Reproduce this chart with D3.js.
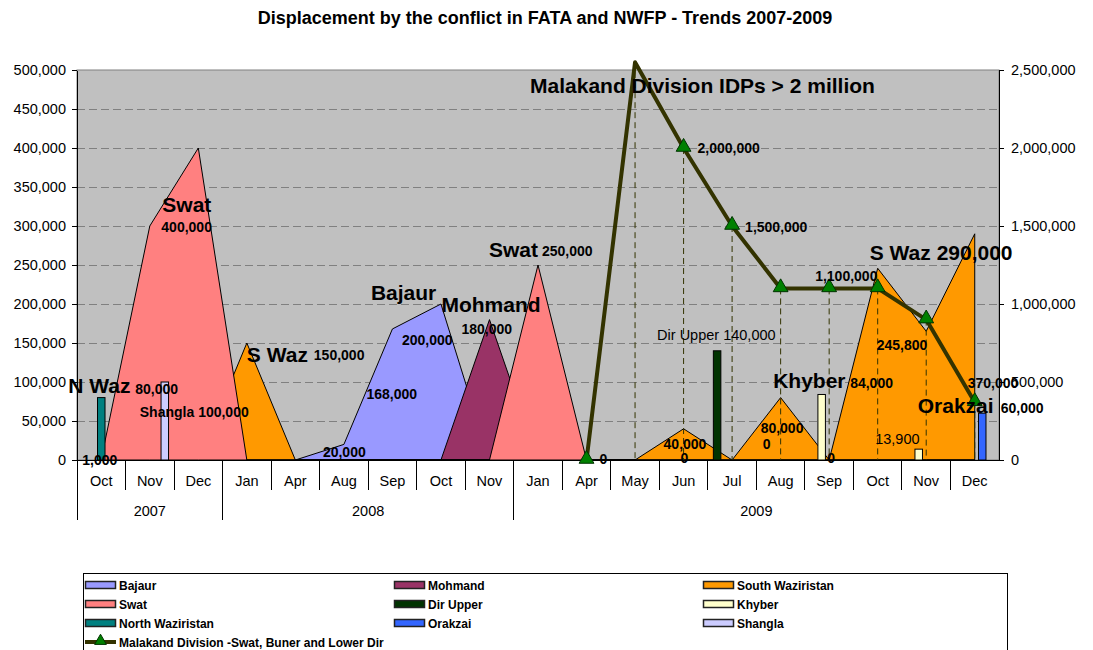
<!DOCTYPE html>
<html>
<head>
<meta charset="utf-8">
<script src="https://cdn.jsdelivr.net/npm/d3@7"></script>
<style>
  body { margin: 0; background: #fff; }
  svg { font-family: "Liberation Sans", Arial, sans-serif; }
  .axis text { font-size: 14.5px; fill: #000; }
  .axis path, .axis line { stroke: #000; shape-rendering: crispEdges; }
  .grid line { stroke: #808080; stroke-dasharray: 8,4; shape-rendering: crispEdges; }
  .lbl { fill: #000; }
  .legend text { font-size: 12px; font-weight: bold; }
</style>
</head>
<body>
<script>

var months = ["Oct", "Nov", "Dec", "Jan", "Apr", "Aug", "Sep", "Oct", "Nov",
              "Jan", "Apr", "May", "Jun", "Jul", "Aug", "Sep", "Oct", "Nov", "Dec"];
var years = ["2007", "2008", "2009"];
var monthsPerYear = [3, 6, 10];

// area series
var bajaur   = [0, 0, 0, 0, 0, 20000, 168000, 200000, 0, 0, 0, 0, 0, 0, 0, 0, 0, 0, 0];
var mohmand  = [0, 0, 0, 0, 0, 0, 0, 0, 180000, 0, 0, 0, 0, 0, 0, 0, 0, 0, 0];
var southWaz = [0, 0, 0, 150000, 0, 0, 0, 0, 0, 0, 0, 0, 40000, 0, 80000, 0, 245800, 165000, 290000];
var swat     = [1000, 300000, 400000, 0, 0, 0, 0, 0, 0, 250000, 0, 0, 0, 0, 0, 0, 0, 0, 0];

// column series
var dirUpper = [null, null, null, null, null, null, null, null, null, null, null, null, null, 140000, null, null, null, null, null];
var khyber   = [null, null, null, null, null, null, null, null, null, null, null, null, null, null, null, 84000, null, 13900, null];
var northWaz = [80000, null, null, null, null, null, null, null, null, null, null, null, null, null, null, null, null, null, null];
var orakzai  = [null, null, null, null, null, null, null, null, null, null, null, null, null, null, null, null, null, null, 60000];
var shangla  = [null, 100000, null, null, null, null, null, null, null, null, null, null, null, null, null, null, null, null, null];

// line series, right axis
var malakand = [null, null, null, null, null, null, null, null, null, null,
                0, 2550000, 2000000, 1500000, 1100000, 1100000, 1100000, 900000, 370000];

var leftTicks = d3.range(0, 500001, 50000);
var rightTicks = d3.range(0, 2500001, 500000);

var areaSeries = [
  {name: "Bajaur", values: bajaur, color: "#9999FF"},
  {name: "Mohmand", values: mohmand, color: "#993366"},
  {name: "South Waziristan", values: southWaz, color: "#FF9900"},
  {name: "Swat", values: swat, color: "#FF8080"}
];
var barSeries = [
  {name: "Dir Upper", values: dirUpper, color: "#003300"},
  {name: "Khyber", values: khyber, color: "#FFFFCC"},
  {name: "North Waziristan", values: northWaz, color: "#008080"},
  {name: "Orakzai", values: orakzai, color: "#3366FF"},
  {name: "Shangla", values: shangla, color: "#CCCCFF"}
];

// text annotations: category index, value they hang off, offset
var labels = [
  {t: "Swat", i: 2, v: 400000, dx: -36, dy: 64, big: true},
  {t: "400,000", i: 2, v: 400000, dx: -37, dy: 84},
  {t: "N Waz", i: 0, v: 80000, dx: -33, dy: -5, big: true},
  {t: "80,000", i: 0, v: 80000, dx: 34, dy: -4},
  {t: "Shangla 100,000", i: 1, v: 100000, dx: -10, dy: 35},
  {t: "1,000", i: 0, v: 1000, dx: -19, dy: 6},
  {t: "S Waz", i: 3, v: 150000, dx: 0, dy: 19, big: true},
  {t: "150,000", i: 3, v: 150000, dx: 67, dy: 17},
  {t: "20,000", i: 5, v: 20000, dx: -21, dy: 13},
  {t: "168,000", i: 6, v: 168000, dx: -26, dy: 70},
  {t: "Bajaur", i: 7, v: 200000, dx: -70, dy: -4, big: true},
  {t: "200,000", i: 7, v: 200000, dx: -39, dy: 41},
  {t: "Mohmand", i: 8, v: 180000, dx: -48, dy: -8, big: true},
  {t: "180,000", i: 8, v: 180000, dx: -28, dy: 14},
  {t: "Swat", i: 9, v: 250000, dx: -49, dy: -8, big: true},
  {t: "250,000", i: 9, v: 250000, dx: 4, dy: -9},
  {t: "0", i: 10, v: 0, dx: 13, dy: 4},
  {t: "Malakand Division IDPs > 2 million", i: 11, v: 2550000, right: true, dx: -105, dy: 31, big: true},
  {t: "2,000,000", i: 12, v: 2000000, right: true, dx: 14, dy: 5},
  {t: "1,500,000", i: 13, v: 1500000, right: true, dx: 13, dy: 6},
  {t: "1,100,000", i: 15, v: 1100000, right: true, dx: -14, dy: -7},
  {t: "Dir Upper 140,000", i: 13, v: 140000, dx: -75, dy: -11, plain: true},
  {t: "40,000", i: 12, v: 40000, dx: -20, dy: 20},
  {t: "0", i: 12, v: 0, dx: -3, dy: 3},
  {t: "Khyber", i: 15, v: 84000, dx: -56, dy: -6, big: true},
  {t: "84,000", i: 15, v: 84000, dx: 21, dy: -6},
  {t: "80,000", i: 14, v: 80000, dx: -20, dy: 35},
  {t: "0", i: 14, v: 0, dx: -18, dy: -11},
  {t: "0", i: 15, v: 0, dx: -2, dy: 3},
  {t: "S Waz 290,000", i: 18, v: 290000, dx: -105, dy: 26, big: true},
  {t: "245,800", i: 16, v: 245800, dx: -1, dy: 82},
  {t: "13,900", i: 17, v: 13900, dx: -51, dy: -5, plain: true},
  {t: "370,000", i: 18, v: 370000, right: true, dx: -7, dy: -14},
  {t: "Orakzai", i: 18, v: 60000, dx: -57, dy: 0, big: true},
  {t: "60,000", i: 18, v: 60000, dx: 26, dy: 0}
];

var plot = {left: 77, right: 999, top: 70, bottom: 460};

var svg = d3.select("body").append("svg")
  .attr("width", 1093)
  .attr("height", 650);

var x = d3.scaleBand()
  .domain(d3.range(months.length))
  .range([plot.left, plot.right])
  .padding(0);

var cx = function (i) { return x(i) + x.bandwidth() / 2; };

var y = d3.scaleLinear().domain([0, 500000]).range([plot.bottom, plot.top]);
var y2 = d3.scaleLinear().domain([0, 2500000]).range([plot.bottom, plot.top]);

var inner = d3.scaleBand()
  .domain(barSeries.map(function (s) { return s.name; }))
  .range([-18.75, 18.75]);

svg.append("text")
  .attr("x", 545)
  .attr("y", 24)
  .attr("text-anchor", "middle")
  .style("font-size", "18px")
  .style("font-weight", "bold")
  .text("Displacement by the conflict in FATA and NWFP - Trends 2007-2009");

// plot background + grid
svg.append("rect")
  .attr("x", plot.left)
  .attr("y", plot.top)
  .attr("width", plot.right - plot.left)
  .attr("height", plot.bottom - plot.top)
  .attr("fill", "#C0C0C0")
  .attr("stroke", "#808080");

svg.append("g")
  .attr("class", "grid")
  .selectAll("line")
  .data(leftTicks.filter(function (d) { return d > 0 && d < 500000; }))
  .enter().append("line")
  .attr("x1", plot.left)
  .attr("x2", plot.right)
  .attr("y1", function (d) { return y(d); })
  .attr("y2", function (d) { return y(d); });

// areas
var area = d3.area()
  .x(function (d, i) { return cx(i); })
  .y0(y(0))
  .y1(function (d) { return y(d); });

svg.append("g")
  .selectAll("path")
  .data(areaSeries)
  .enter().append("path")
  .attr("d", function (s) { return area(s.values); })
  .attr("fill", function (s) { return s.color; })
  .attr("stroke", "#000")
  .attr("stroke-width", 1)
  .attr("stroke-linejoin", "miter");

// drop lines from the line series
var malPts = malakand.map(function (v, i) { return {i: i, v: v}; })
  .filter(function (d) { return d.v !== null; });

svg.append("g")
  .selectAll("line")
  .data(malPts.filter(function (d) { return d.v > 0; }))
  .enter().append("line")
  .attr("x1", function (d) { return cx(d.i); })
  .attr("x2", function (d) { return cx(d.i); })
  .attr("y1", function (d) { return y2(d.v); })
  .attr("y2", y2(0))
  .attr("stroke", "#333300")
  .attr("stroke-dasharray", "6,4");

// columns
barSeries.forEach(function (s) {
  svg.append("g")
    .selectAll("rect")
    .data(s.values.map(function (v, i) { return {i: i, v: v}; })
      .filter(function (d) { return d.v !== null; }))
    .enter().append("rect")
    .attr("x", function (d) { return cx(d.i) + inner(s.name); })
    .attr("y", function (d) { return y(d.v); })
    .attr("width", inner.bandwidth())
    .attr("height", function (d) { return y(0) - y(d.v); })
    .attr("fill", s.color)
    .attr("stroke", "#000");
});

// axes
svg.append("g")
  .attr("class", "axis")
  .attr("transform", "translate(" + plot.left + ",0)")
  .call(d3.axisLeft(y).tickValues(leftTicks).tickFormat(d3.format(",")).tickSize(5).tickSizeOuter(0).tickPadding(6));

svg.append("g")
  .attr("class", "axis")
  .attr("transform", "translate(" + plot.right + ",0)")
  .call(d3.axisRight(y2).tickValues(rightTicks).tickFormat(d3.format(",")).tickSize(5).tickSizeOuter(0).tickPadding(7));

// two-level category axis
var xa = svg.append("g").attr("class", "axis");

xa.append("line")
  .attr("x1", plot.left).attr("x2", plot.right)
  .attr("y1", plot.bottom).attr("y2", plot.bottom);

xa.selectAll(".sep")
  .data(d3.range(1, months.length))
  .enter().append("line")
  .attr("x1", function (i) { return x(i); })
  .attr("x2", function (i) { return x(i); })
  .attr("y1", plot.bottom)
  .attr("y2", 490);

xa.selectAll(".mon")
  .data(months)
  .enter().append("text")
  .attr("x", function (d, i) { return cx(i); })
  .attr("y", 486)
  .attr("text-anchor", "middle")
  .text(function (d) { return d; });

var starts = [0];
monthsPerYear.forEach(function (n, k) { starts.push(starts[k] + n); });

xa.selectAll(".ysep")
  .data(starts.slice(0, years.length))
  .enter().append("line")
  .attr("x1", function (i) { return x(i); })
  .attr("x2", function (i) { return x(i); })
  .attr("y1", plot.bottom)
  .attr("y2", 520);

xa.selectAll(".yr")
  .data(years)
  .enter().append("text")
  .attr("x", function (d, k) {
    var a = x(starts[k]);
    var b = starts[k + 1] < months.length ? x(starts[k + 1]) : plot.right;
    return (a + b) / 2;
  })
  .attr("y", 516)
  .attr("text-anchor", "middle")
  .text(function (d) { return d; });

// Malakand line
var line = d3.line()
  .defined(function (d) { return d !== null; })
  .x(function (d, i) { return cx(i); })
  .y(function (d) { return y2(d); });

svg.append("path")
  .datum(malakand)
  .attr("d", line)
  .attr("fill", "none")
  .attr("stroke", "#333300")
  .attr("stroke-width", 4)
  .attr("stroke-linejoin", "round");

var tri = d3.symbol().type(d3.symbolTriangle).size(95);

svg.append("g")
  .selectAll("path")
  .data(malPts.filter(function (d) { return d.v <= 2500000; }))
  .enter().append("path")
  .attr("d", tri)
  .attr("transform", function (d) { return "translate(" + cx(d.i) + "," + (y2(d.v) - 1) + ")"; })
  .attr("fill", "#008000")
  .attr("stroke", "#003300")
  .attr("stroke-width", 1);

// labels
svg.append("g")
  .selectAll("text")
  .data(labels)
  .enter().append("text")
  .attr("class", "lbl")
  .attr("x", function (d) { return cx(d.i) + d.dx; })
  .attr("y", function (d) { return (d.right ? y2(d.v) : y(d.v)) + d.dy; })
  .style("font-size", function (d) { return d.big ? "21px" : (d.plain ? "14.5px" : "14px"); })
  .style("font-weight", function (d) { return d.plain ? "normal" : "bold"; })
  .text(function (d) { return d.t; });

// legend
var legendItems = [
  areaSeries[0], areaSeries[1], areaSeries[2],
  areaSeries[3], barSeries[0], barSeries[1],
  barSeries[2], barSeries[3], barSeries[4]
];

var legend = svg.append("g").attr("class", "legend");

legend.append("rect")
  .attr("x", 83.5).attr("y", 573.5)
  .attr("width", 924).attr("height", 90)
  .attr("fill", "#fff")
  .attr("stroke", "#000");

var item = legend.selectAll(".item")
  .data(legendItems)
  .enter().append("g")
  .attr("transform", function (d, k) {
    return "translate(" + (85 + (k % 3) * 309) + "," + (585 + Math.floor(k / 3) * 19) + ")";
  });

item.append("rect")
  .attr("x", 0.5).attr("y", -3.5)
  .attr("width", 30).attr("height", 7)
  .attr("fill", function (d) { return d.color; })
  .attr("stroke", "#222")
  .attr("stroke-width", 1.5);

item.append("text")
  .attr("x", 34)
  .attr("y", 4.5)
  .text(function (d) { return d.name; });

var lineItem = legend.append("g")
  .attr("transform", "translate(85," + (585 + 3 * 19) + ")");

lineItem.append("line")
  .attr("x1", 0).attr("x2", 31)
  .attr("stroke", "#333300")
  .attr("stroke-width", 4);

lineItem.append("path")
  .attr("d", d3.symbol().type(d3.symbolTriangle).size(60))
  .attr("transform", "translate(15.5,-1)")
  .attr("fill", "#008000")
  .attr("stroke", "#003300");

lineItem.append("text")
  .attr("x", 34)
  .attr("y", 4.5)
  .text("Malakand Division -Swat, Buner and Lower Dir");

</script>
</body>
</html>
